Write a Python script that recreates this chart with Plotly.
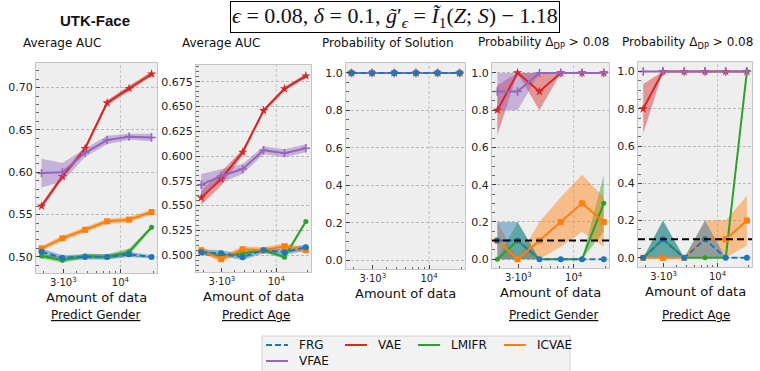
import plotly.graph_objects as go

W, H = 760, 371

# ---------------- data ----------------
DATA_SIZES = [1900, 2950, 4750, 7550, 12000, 19250]
METHODS = ["FRG", "VAE", "LMIFR", "ICVAE", "VFAE"]
X_TICK_VALS = [3000, 10000]
X_TICK_TEXT = ["3·10<sup>3</sup>", "10<sup>4</sup>"]
X_MINOR_VALS = [2000, 4000, 5000, 6000, 7000, 8000, 9000, 20000]
DELTA = 0.1

# Panel 1: Average AUC, predict gender
GENDER_AUC_FRG = [0.506, 0.499, 0.500, 0.500, 0.503, 0.500]
GENDER_AUC_FRG_ERR = [0.004, 0.003, 0.003, 0.003, 0.003, 0.002]
GENDER_AUC_VAE = [0.560, 0.595, 0.628, 0.682, 0.699, 0.716]
GENDER_AUC_VAE_ERR = [0.003, 0.003, 0.003, 0.003, 0.003, 0.003]
GENDER_AUC_LMIFR = [0.501, 0.496, 0.501, 0.500, 0.506, 0.535]
GENDER_AUC_LMIFR_ERR = [0.003, 0.003, 0.003, 0.003, 0.004, 0.002]
GENDER_AUC_ICVAE = [0.510, 0.522, 0.532, 0.542, 0.544, 0.553]
GENDER_AUC_ICVAE_ERR = [0.003, 0.003, 0.003, 0.003, 0.003, 0.003]
GENDER_AUC_VFAE = [0.599, 0.600, 0.623, 0.638, 0.642, 0.641]
GENDER_AUC_VFAE_ERR = [0.017, 0.011, 0.005, 0.005, 0.0035, 0.0045]

# Panel 2: Average AUC, predict age
AGE_AUC_FRG = [0.503, 0.502, 0.498, 0.505, 0.503, 0.508]
AGE_AUC_FRG_ERR = [0.003, 0.003, 0.003, 0.003, 0.003, 0.003]
AGE_AUC_VAE = [0.558, 0.577, 0.604, 0.646, 0.668, 0.681]
AGE_AUC_VAE_ERR = [0.007, 0.007, 0.003, 0.002, 0.002, 0.002]
AGE_AUC_LMIFR = [0.503, 0.499, 0.502, 0.505, 0.498, 0.534]
AGE_AUC_LMIFR_ERR = [0.002, 0.002, 0.002, 0.002, 0.002, 0.002]
AGE_AUC_ICVAE = [0.505, 0.496, 0.506, 0.505, 0.509, 0.505]
AGE_AUC_ICVAE_ERR = [0.003, 0.003, 0.003, 0.003, 0.003, 0.003]
AGE_AUC_VFAE = [0.571, 0.580, 0.587, 0.606, 0.603, 0.608]
AGE_AUC_VFAE_ERR = [0.011, 0.007, 0.005, 0.004, 0.004, 0.004]

# Panel 3: probability of solution
SOL_FRG = [1.0, 1.0, 1.0, 1.0, 1.0, 1.0]
SOL_VAE = [1.0, 1.0, 1.0, 1.0, 1.0, 1.0]
SOL_LMIFR = [1.0, 1.0, 1.0, 1.0, 1.0, 1.0]
SOL_ICVAE = [1.0, 1.0, 1.0, 1.0, 1.0, 1.0]
SOL_VFAE = [1.0, 1.0, 1.0, 1.0, 1.0, 1.0]
SOL_ERR = [0, 0, 0, 0, 0, 0]

# Panel 4: probability Delta_DP > 0.08, predict gender
GENDER_P_FRG = [0.1, 0.1, 0.0, 0.0, 0.0, 0.0]
GENDER_P_FRG_ERR = [0.1, 0.1, 0, 0, 0, 0]
GENDER_P_VAE = [0.8, 1.0, 0.9, 1.0, 1.0, 1.0]
GENDER_P_VAE_ERR = [0.133, 0, 0.1, 0, 0, 0]
GENDER_P_LMIFR = [0.0, 0.1, 0.0, 0.0, 0.0, 0.3]
GENDER_P_LMIFR_ERR = [0, 0.1, 0, 0, 0, 0.153]
GENDER_P_ICVAE = [0.1, 0.0, 0.1, 0.2, 0.3, 0.2]
GENDER_P_ICVAE_ERR = [0.1, 0, 0.1, 0.133, 0.153, 0.133]
GENDER_P_VFAE = [0.9, 0.9, 1.0, 1.0, 1.0, 1.0]
GENDER_P_VFAE_ERR = [0.1, 0.1, 0, 0, 0, 0]

# Panel 5: probability Delta_DP > 0.08, predict age
AGE_P_FRG = [0.0, 0.1, 0.0, 0.1, 0.0, 0.0]
AGE_P_FRG_ERR = [0, 0.1, 0, 0.1, 0, 0]
AGE_P_VAE = [0.8, 1.0, 1.0, 1.0, 1.0, 1.0]
AGE_P_VAE_ERR = [0.133, 0, 0, 0, 0, 0]
AGE_P_LMIFR = [0.0, 0.1, 0.0, 0.0, 0.0, 1.0]
AGE_P_LMIFR_ERR = [0, 0.1, 0, 0, 0, 0]
AGE_P_ICVAE = [0.0, 0.0, 0.0, 0.1, 0.1, 0.2]
AGE_P_ICVAE_ERR = [0, 0, 0, 0.1, 0.1, 0.133]
AGE_P_VFAE = [1.0, 1.0, 1.0, 1.0, 1.0, 1.0]
AGE_P_VFAE_ERR = [0, 0, 0, 0, 0, 0]

PANELS = [
    {"FRG": (GENDER_AUC_FRG, GENDER_AUC_FRG_ERR), "VAE": (GENDER_AUC_VAE, GENDER_AUC_VAE_ERR),
     "LMIFR": (GENDER_AUC_LMIFR, GENDER_AUC_LMIFR_ERR), "ICVAE": (GENDER_AUC_ICVAE, GENDER_AUC_ICVAE_ERR),
     "VFAE": (GENDER_AUC_VFAE, GENDER_AUC_VFAE_ERR)},
    {"FRG": (AGE_AUC_FRG, AGE_AUC_FRG_ERR), "VAE": (AGE_AUC_VAE, AGE_AUC_VAE_ERR),
     "LMIFR": (AGE_AUC_LMIFR, AGE_AUC_LMIFR_ERR), "ICVAE": (AGE_AUC_ICVAE, AGE_AUC_ICVAE_ERR),
     "VFAE": (AGE_AUC_VFAE, AGE_AUC_VFAE_ERR)},
    {"FRG": (SOL_FRG, SOL_ERR), "VAE": (SOL_VAE, SOL_ERR), "LMIFR": (SOL_LMIFR, SOL_ERR),
     "ICVAE": (SOL_ICVAE, SOL_ERR), "VFAE": (SOL_VFAE, SOL_ERR)},
    {"FRG": (GENDER_P_FRG, GENDER_P_FRG_ERR), "VAE": (GENDER_P_VAE, GENDER_P_VAE_ERR),
     "LMIFR": (GENDER_P_LMIFR, GENDER_P_LMIFR_ERR), "ICVAE": (GENDER_P_ICVAE, GENDER_P_ICVAE_ERR),
     "VFAE": (GENDER_P_VFAE, GENDER_P_VFAE_ERR)},
    {"FRG": (AGE_P_FRG, AGE_P_FRG_ERR), "VAE": (AGE_P_VAE, AGE_P_VAE_ERR),
     "LMIFR": (AGE_P_LMIFR, AGE_P_LMIFR_ERR), "ICVAE": (AGE_P_ICVAE, AGE_P_ICVAE_ERR),
     "VFAE": (AGE_P_VFAE, AGE_P_VFAE_ERR)},
]

PANEL_TITLES = ["Average AUC", "Average AUC", "Probability of Solution",
                "Probability Δ<sub>DP</sub> &gt; 0.08", "Probability Δ<sub>DP</sub> &gt; 0.08"]
PANEL_TASKS = ["Predict Gender", "Predict Age", None, "Predict Gender", "Predict Age"]

# ---------------- style ----------------
COLORS = {"FRG": (31, 119, 180), "VAE": (214, 39, 40), "LMIFR": (44, 160, 44),
          "ICVAE": (255, 127, 14), "VFAE": (148, 103, 189)}
SYMBOLS = {"FRG": ("circle", 6), "VAE": ("star", 7), "LMIFR": ("circle", 5),
           "ICVAE": ("square", 6), "VFAE": ("cross-thin-open", 6)}
DRAW_ORDER = ["VAE", "LMIFR", "ICVAE", "VFAE", "FRG"]

# layout geometry in pixels: (left, right, top, bottom)
PANEL_BOX = [(36, 157, 63, 273), (196, 311, 65, 272), (346, 465, 63, 269),
             (492, 609, 63, 268), (638, 752, 62, 267)]
Y_RANGES = [[0.481, 0.729], [0.483, 0.692], [-0.047, 1.053], [-0.047, 1.053], [-0.049, 1.051]]
Y_DTICK = [0.05, 0.025, 0.2, 0.2, 0.2]
Y_MINOR = [0.01, 0.005, 0.05, 0.05, 0.05]
Y_FMT = [".2f", ".3f", ".1f", ".1f", ".1f"]
Y_TICK0 = [0.5, 0.5, 0.0, 0.0, 0.0]
X_RANGE_LOG = [3.228, 4.334]
TITLE_X = [21, 180, 320, 476, 620]
TASK_X = [95, 256, None, 553, 696]
# legend entries: text left x, row centre y (pixels)
LEGEND_TEXT_X = [297, 376, 449, 535, 297]
LEGEND_ROW_Y = [345, 345, 345, 345, 361]

FONT = "DejaVu Sans"


def rgba(c, a):
    return "rgba(%d,%d,%d,%s)" % (c[0], c[1], c[2], a)


def px_x(p):
    return p / W


def px_y(p):
    return 1 - p / H


fig = go.Figure()

for i, panel in enumerate(PANELS):
    ax = "" if i == 0 else str(i + 1)
    xa, ya = "x" + ax, "y" + ax
    # bands
    for m in DRAW_ORDER:
        mean, err = panel[m]
        if max(err) <= 0:
            continue
        up = [v + e for v, e in zip(mean, err)]
        lo = [v - e for v, e in zip(mean, err)]
        fig.add_trace(go.Scatter(
            x=DATA_SIZES + DATA_SIZES[::-1], y=up + lo[::-1], fill="toself",
            fillcolor=rgba(COLORS[m], 0.45), line=dict(width=0), mode="lines",
            hoverinfo="skip", showlegend=False, xaxis=xa, yaxis=ya))
    # lines
    for m in DRAW_ORDER:
        mean, err = panel[m]
        sym, size = SYMBOLS[m]
        mk = dict(symbol=sym, size=size, color=rgba(COLORS[m], 1))
        if sym.endswith("open"):
            mk["line"] = dict(width=1.6, color=rgba(COLORS[m], 1))
        fig.add_trace(go.Scatter(
            x=DATA_SIZES, y=mean, mode="lines+markers", name=m,
            line=dict(color=rgba(COLORS[m], 1), width=2,
                      dash="6px,3px" if m == "FRG" else "solid"),
            marker=mk, showlegend=False, xaxis=xa, yaxis=ya))

    l, r, t, b = PANEL_BOX[i]
    fig.layout["xaxis" + ax] = dict(
        domain=[px_x(l), px_x(r)], anchor=ya, type="log", range=X_RANGE_LOG,
        tickmode="array", tickvals=X_TICK_VALS, ticktext=X_TICK_TEXT,
        ticks="inside", ticklen=4, tickcolor="#444", showgrid=False,
        minor=dict(tickmode="array", tickvals=X_MINOR_VALS, ticks="inside",
                   ticklen=2.5, tickcolor="#666", showgrid=False),
        showline=True, mirror=True, linecolor="#c4c4c4", linewidth=1,
        tickfont=dict(family=FONT, size=10, color="#222"), zeroline=False)
    fig.layout["yaxis" + ax] = dict(
        domain=[px_y(b), px_y(t)], anchor=xa, range=Y_RANGES[i],
        tickmode="linear", tick0=Y_TICK0[i], dtick=Y_DTICK[i], tickformat=Y_FMT[i],
        ticks="inside", ticklen=4, tickcolor="#444",
        showgrid=True, gridcolor="#b8b8b8", griddash="3px,2px", gridwidth=0.8,
        minor=dict(dtick=Y_MINOR[i], ticks="inside", ticklen=2.5, tickcolor="#666",
                   showgrid=False),
        showline=True, mirror=True, linecolor="#c4c4c4", linewidth=1,
        tickfont=dict(family=FONT, size=11, color="#222"), zeroline=False)

    # vertical major grid at 10^4
    fig.add_shape(type="line", xref=xa, yref=ya + " domain", x0=10000, x1=10000, y0=0, y1=1,
                  line=dict(color="#b8b8b8", width=0.8, dash="3px,2px"), layer="below")
    # threshold line
    if i >= 3:
        fig.add_shape(type="line", xref=xa + " domain", yref=ya, x0=0, x1=1, y0=DELTA, y1=DELTA,
                      line=dict(color="black", width=2, dash="7px,4px"), layer="above")

    fig.add_annotation(x=px_x(TITLE_X[i]), y=px_y(43), xref="paper", yref="paper",
                       text=PANEL_TITLES[i], showarrow=False, xanchor="left", yanchor="middle",
                       font=dict(family=FONT, size=12, color="#111"))
    fig.add_annotation(x=px_x((l + r) / 2), y=px_y(b + 24), xref="paper", yref="paper",
                       text="Amount of data", showarrow=False, xanchor="center", yanchor="middle",
                       font=dict(family=FONT, size=13, color="#111"))
    if PANEL_TASKS[i]:
        fig.add_annotation(x=px_x(TASK_X[i]), y=px_y(315), xref="paper", yref="paper",
                           text="<u>" + PANEL_TASKS[i] + "</u>", showarrow=False,
                           xanchor="center", yanchor="middle",
                           font=dict(family=FONT, size=12, color="#111"))

# legend (drawn as a framed box of line samples and labels)
fig.add_shape(type="rect", xref="paper", yref="paper", x0=px_x(262), x1=px_x(570),
              y0=px_y(378), y1=px_y(336), fillcolor="#f2f2f2",
              line=dict(color="#d2d2d2", width=1), layer="below")
for m, tx, ty in zip(METHODS, LEGEND_TEXT_X, LEGEND_ROW_Y):
    fig.add_shape(type="line", xref="paper", yref="paper",
                  x0=px_x(tx - 31), x1=px_x(tx - 9), y0=px_y(ty), y1=px_y(ty),
                  line=dict(color=rgba(COLORS[m], 1), width=2,
                            dash="6px,3px" if m == "FRG" else "solid"))
    fig.add_annotation(x=px_x(tx), y=px_y(ty), xref="paper", yref="paper", text=m,
                       showarrow=False, xanchor="left", yanchor="middle",
                       font=dict(family=FONT, size=12, color="#111"))

fig.add_annotation(x=px_x(95), y=px_y(21), xref="paper", yref="paper", text="<b>UTK-Face</b>",
                   showarrow=False, xanchor="center", yanchor="middle",
                   font=dict(family="Liberation Sans", size=15, color="#111"))
fig.add_annotation(x=px_x(395), y=px_y(17), xref="paper", yref="paper",
                   text="<i>ϵ</i> = 0.08, <i>δ</i> = 0.1, <i>g̃</i>′<sub><i>ϵ</i></sub> = "
                        "<i>Ĩ</i><sub>1</sub>(<i>Z</i>; <i>S</i>) − 1.18",
                   showarrow=False, xanchor="center", yanchor="middle",
                   bordercolor="black", borderwidth=1, borderpad=1,
                   font=dict(family="Liberation Serif", size=22, color="#111"))

fig.update_layout(
    width=W, height=H, margin=dict(l=0, r=0, t=0, b=0),
    paper_bgcolor="white", plot_bgcolor="#eeeeee", showlegend=False,
)

fig.write_html("out.html")
